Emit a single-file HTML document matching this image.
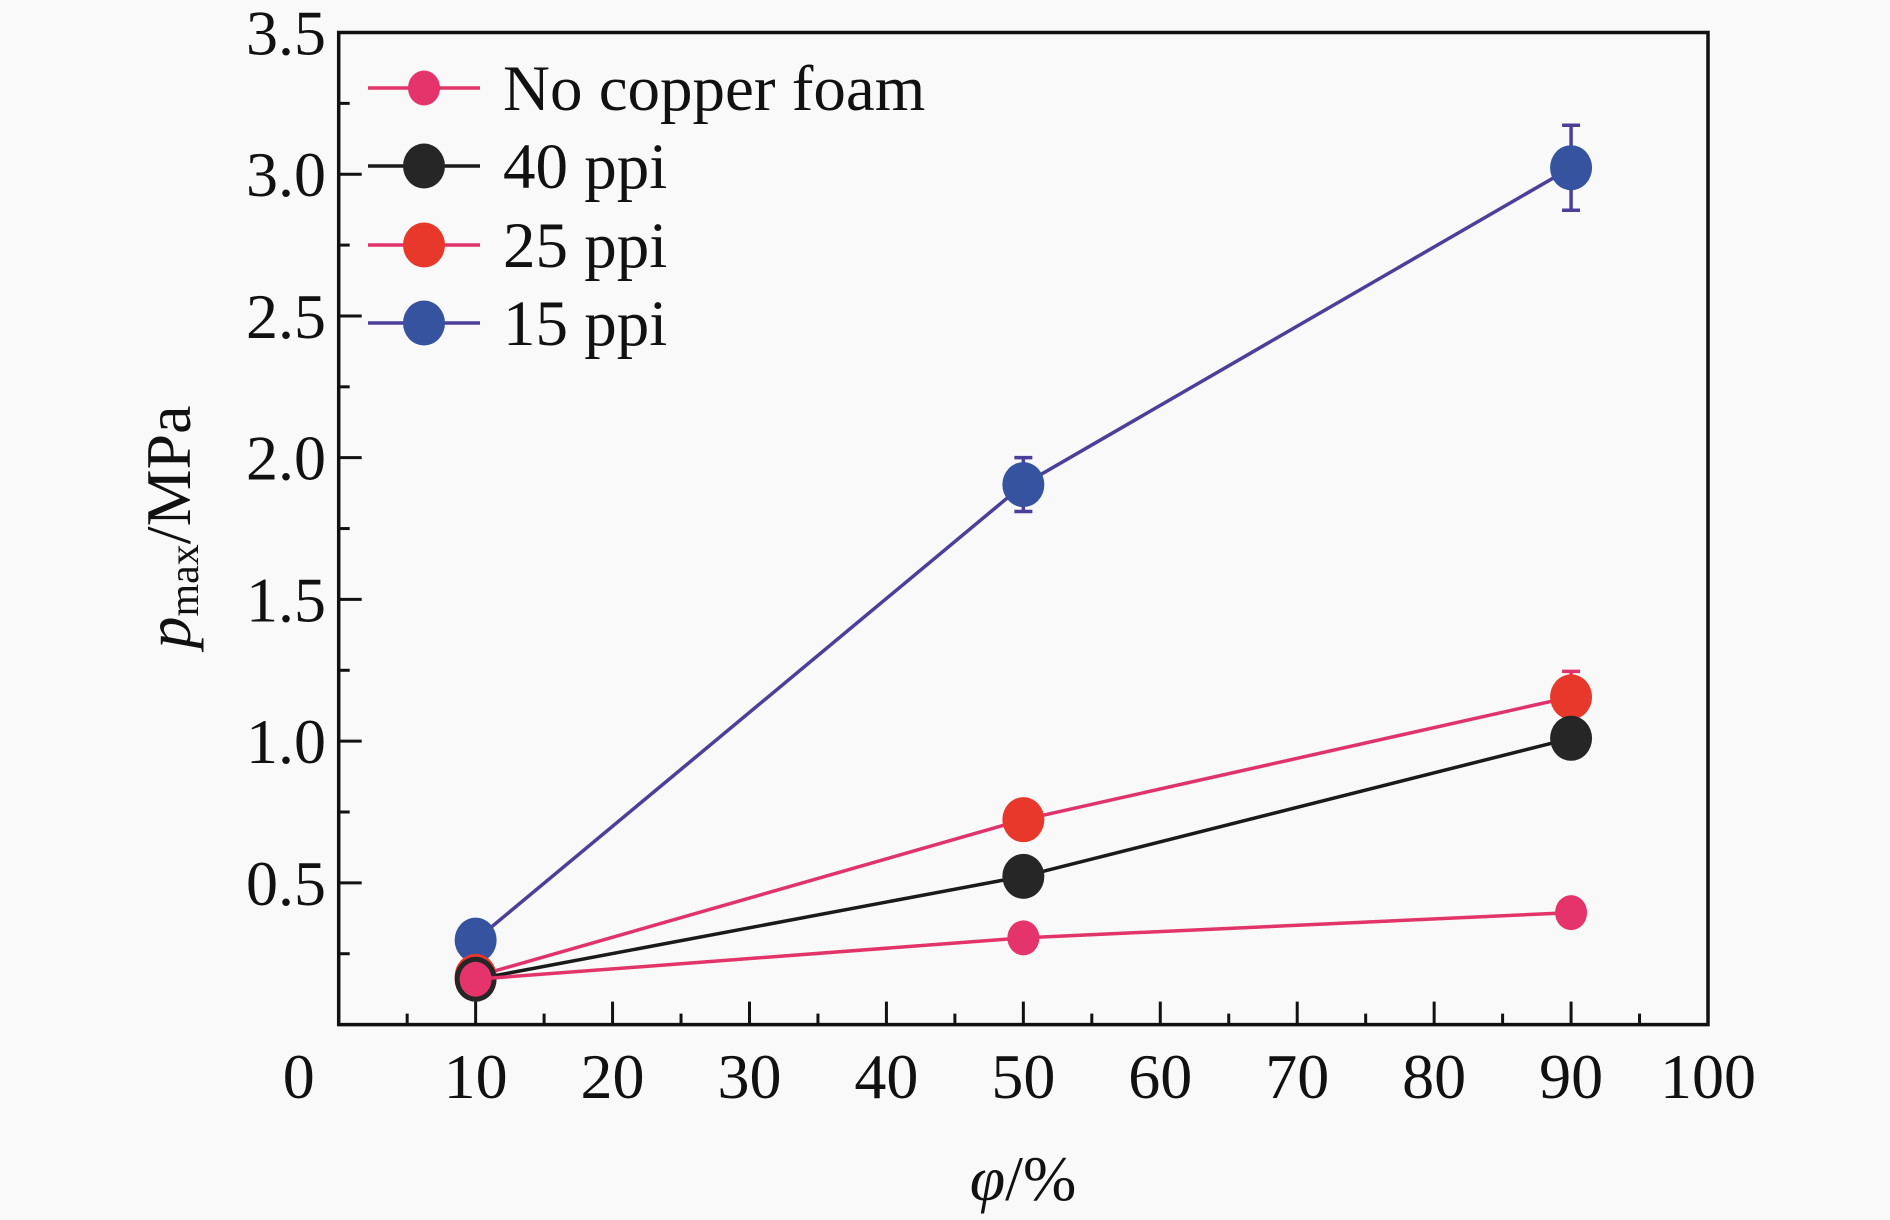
<!DOCTYPE html>
<html><head><meta charset="utf-8"><style>
html,body{margin:0;padding:0;background:#f9f9f9;}
svg{display:block;font-family:"Liberation Serif",serif;}
</style></head><body>
<svg id="chart" width="1890" height="1220" viewBox="0 0 1890 1220">
<rect width="1890" height="1220" fill="#f9f9f9"/>
<g id="plot"></g>
</svg>
<script>
const categories = [10, 50, 90];
const noFoam = [0.16, 0.306, 0.395];
const ppi40 = [0.16, 0.523, 1.01];
const ppi25 = [0.17, 0.723, 1.156];
const ppi15 = [0.298, 1.905, 3.023];
const err15 = [0, 0.095, 0.15];
const err25 = [0, 0, 0.09];
const err40 = [0, 0, 0.05];
const xTicks = [0,10,20,30,40,50,60,70,80,90,100];
const yTicks = [0.5,1.0,1.5,2.0,2.5,3.0,3.5];
const seriesNames = ["No copper foam","40 ppi","25 ppi","15 ppi"];

const L=338.7,R=1708,T=32.5,B=1024.6;
const xs=v=>L+(R-L)*v/100;
const ys=v=>B-(B-T)*v/3.5;
const NS="http://www.w3.org/2000/svg";
const g=document.getElementById('plot');
function mk(tag,attrs,parent){const e=document.createElementNS(NS,tag);for(const k in attrs)e.setAttribute(k,attrs[k]);(parent||g).appendChild(e);return e;}

for(let v=5;v<100;v+=5){const major=v%10===0;
 const t=mk('line',{x1:xs(v),x2:xs(v),y1:B,y2:B-(major?23:11),stroke:'#111','stroke-width':3});
 
 }
for(let v=0.25;v<3.5;v+=0.25){const major=Math.abs(v*2-Math.round(v*2))<1e-6;
 const t=mk('line',{x1:L,x2:L+(major?23:11),y1:ys(v),y2:ys(v),stroke:'#111','stroke-width':3});
 
 }
xTicks.forEach(v=>{const t=mk('text',{x:xs(v)-(v===0?40:0),y:1098,'font-size':64,'text-anchor':'middle',fill:'#111'});t.textContent=v;
 
 });
yTicks.forEach(v=>{const t=mk('text',{x:326,y:ys(v)+22,'font-size':64,'text-anchor':'end',fill:'#111'});t.textContent=v.toFixed(1);
 
 });

const series=[
 {vals:noFoam,err:null,line:'#e33469',fill:'#e5336b',r:16},
 {vals:ppi40,err:err40,line:'#1a1a1a',fill:'#262626',r:21},
 {vals:ppi25,err:err25,line:'#e0336b',fill:'#e8382b',r:21},
 {vals:ppi15,err:err15,line:'#4b3f9a',fill:'#3653a0',r:21}];
const order=[3,2,1,0];
order.forEach(i=>{const s=series[i];
 const pts=categories.map((c,j)=>xs(c)+','+ys(s.vals[j])).join(' ');
 const pl=mk('polyline',{points:pts,fill:'none',stroke:s.line,'stroke-width':3.5});
 
 
 if(s.err)categories.forEach((c,j)=>{const e=s.err[j];if(!e)return;const x=xs(c);
  const eb=mk('path',{d:`M${x},${ys(s.vals[j]-e)}V${ys(s.vals[j]+e)}M${x-9},${ys(s.vals[j]-e)}h18M${x-9},${ys(s.vals[j]+e)}h18`,stroke:s.line,'stroke-width':3.5,fill:'none'});
  
  });
 categories.forEach((c,j)=>{const p=mk('ellipse',{cx:xs(c),cy:ys(s.vals[j]),rx:s.r,ry:s.r+1.5,fill:s.fill});
  
  });
});

const fr=mk('rect',{x:L,y:T,width:R-L,height:B-T,fill:'none',stroke:'#111','stroke-width':3.5});



const legY=[88,166,245,323];
series.forEach((s,i)=>{const lg=mk('g',{});
 
 
 mk('line',{x1:368,x2:480,y1:legY[i],y2:legY[i],stroke:s.line,'stroke-width':3.5},lg);
 mk('ellipse',{cx:424,cy:legY[i],rx:s.r,ry:s.r+1.5,fill:s.fill},lg);
 const t=mk('text',{x:503,y:legY[i]+22,'font-size':65,fill:'#111'},lg);t.textContent=seriesNames[i];});

const xt=mk('text',{x:1023,y:1200,'font-size':64,'text-anchor':'middle',fill:'#111'});
xt.innerHTML='<tspan font-style="italic">φ</tspan>/%';


const yt=mk('text',{x:0,y:0,'font-size':64,'text-anchor':'middle',fill:'#111',transform:'translate(190,527) rotate(-90)'});
yt.innerHTML='<tspan font-style="italic">p</tspan><tspan font-size="42" dy="8">max</tspan><tspan dy="-8">/MPa</tspan>';


</script>
</body></html>
